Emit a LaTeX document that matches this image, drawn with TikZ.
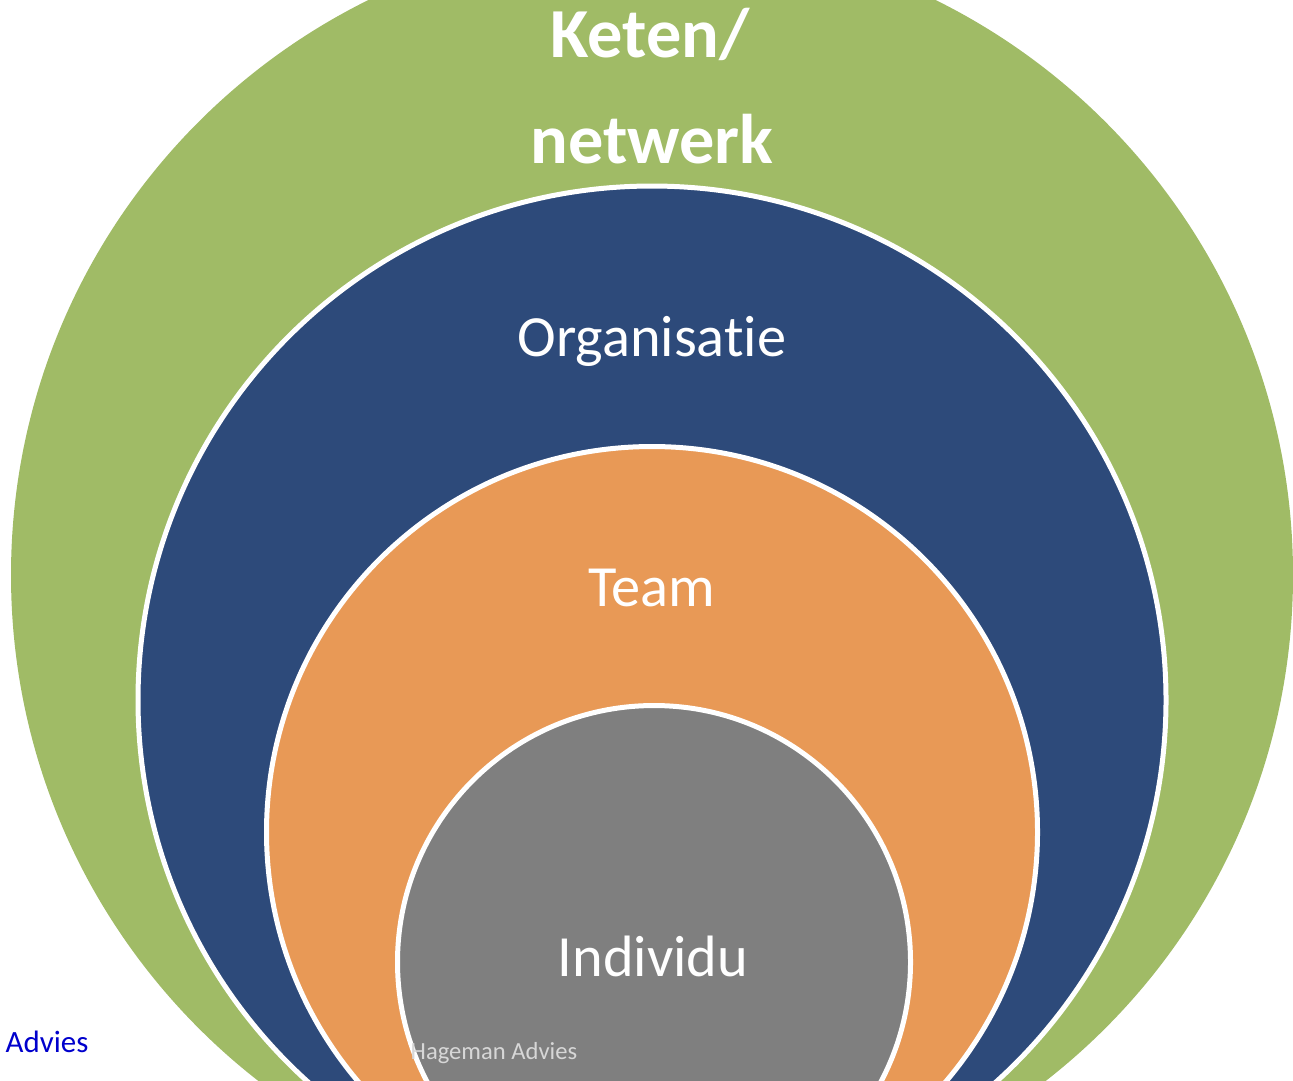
\documentclass[tikz,border=0pt]{standalone}
\usepackage{fontspec}
\setmainfont{Carlito}[Ligatures={NoCommon}]
\definecolor{ringgreen}{RGB}{160,187,102}
\definecolor{ringblue}{RGB}{45,74,122}
\definecolor{ringorange}{RGB}{232,153,86}
\definecolor{ringgray}{RGB}{127,127,127}
\definecolor{linkblue}{RGB}{0,0,204}
\definecolor{marktext}{RGB}{215,215,215}
\tikzset{
  ring/.style={fill=#1, draw=white, line width=0.5mm},
  biglabel/.style={text=white, anchor=base, inner sep=0pt, font=\fontsize{16.6}{20}\selectfont},
  toplabel/.style={text=white, anchor=base, inner sep=0pt, font=\fontsize{20}{24}\selectfont\bfseries}
}
\begin{document}
\begin{tikzpicture}[x=0.1mm,y=-0.1mm]
\useasboundingbox (0,0) rectangle (1293,1080);
\begin{scope}
\clip (0,0) rectangle (1293,1080);
\fill[ringgreen] (652,575) circle (641);
\path[ring=ringblue] (652,700) circle (514);
\path[ring=ringorange] (652,832) circle (385.5);
\path[ring=ringgray] (654,962) circle (256.5);
\end{scope}
\node[toplabel] (keten) at (650,57) {Keten/};
\node[toplabel] (netwerk) at (652,163) {netwerk};
\node[biglabel] (org) at (652,356) {Organisatie};
\node[biglabel] (team) at (652,606) {Team};
\node[biglabel] (ind) at (653,976) {Individu};
\node[anchor=base west, inner sep=0pt, text=linkblue, font=\fontsize{8.8}{10}\selectfont] (advies) at (5,1052) {Advies};
\node[anchor=base west, inner sep=0pt, text=marktext, font=\fontsize{7}{8}\selectfont] (hageman) at (410,1059) {Hageman Advies};
\end{tikzpicture}
\end{document}
